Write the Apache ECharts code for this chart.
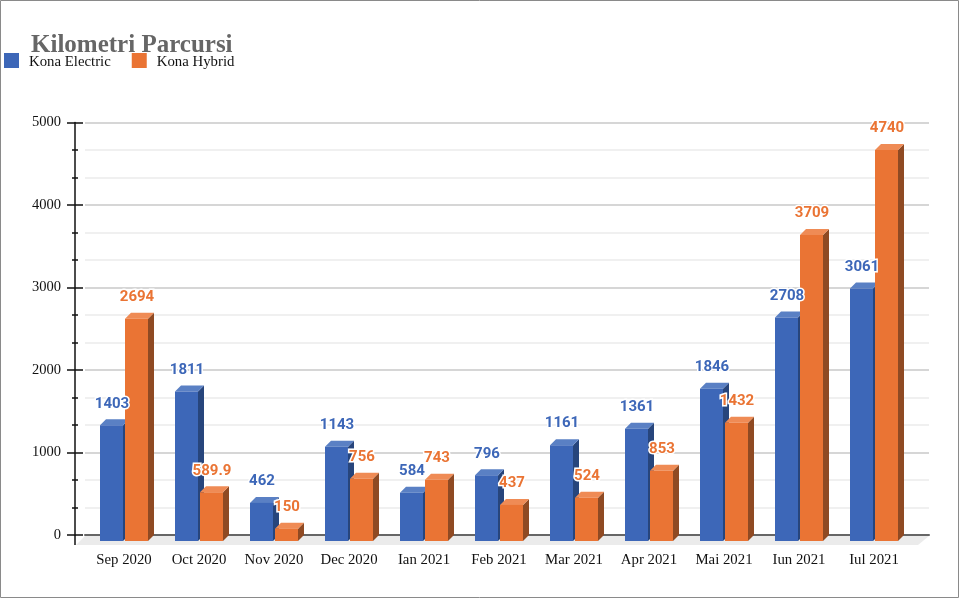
<!DOCTYPE html>
<html><head><meta charset="utf-8">
<style>html,body{margin:0;padding:0;background:#fff}#c{width:959px;height:598px}</style>
<script src="https://cdn.jsdelivr.net/npm/echarts@6/dist/echarts.min.js"></script></head>
<body><div id="c"></div>
<script>
const months = ['Sep 2020','Oct 2020','Nov 2020','Dec 2020','Ian 2021','Feb 2021','Mar 2021','Apr 2021','Mai 2021','Iun 2021','Iul 2021'];
const konaElectric = [1403,1811,462,1143,584,796,1161,1361,1846,2708,3061];
const konaHybrid = [2694,589.9,150,756,743,437,524,853,1432,3709,4740];
const serif = '"Liberation Serif"';
const DEPTH = 6, BAR = 23;
function bar3d(front, top, side, labelColor, leftOffset) {
  return function (params, api) {
    const i = api.value(0), v = api.value(1);
    const c = api.coord([i, v]), b = api.coord([i, 0]);
    const x0 = c[0] + leftOffset, x1 = x0 + BAR;
    const yT = c[1] + DEPTH, yB = b[1] + DEPTH;
    return { type: 'group', children: [
      { type: 'polygon', shape: { points: [[x1,yT],[x1+DEPTH,yT-DEPTH],[x1+DEPTH,yB-DEPTH],[x1,yB]] }, style: { fill: side } },
      { type: 'polygon', shape: { points: [[x0,yT],[x1,yT],[x1+DEPTH,yT-DEPTH],[x0+DEPTH,yT-DEPTH]] }, style: { fill: top } },
      { type: 'rect', shape: { x: x0, y: yT, width: BAR, height: yB - yT }, style: { fill: front } },
      { type: 'text', z2: 100, style: { text: String(v), x: (x0 + x1) / 2 + 0.5, y: c[1] - 15.5, align: 'center', verticalAlign: 'middle',
        fill: labelColor, font: '700 15px Roboto', stroke: '#fff', lineWidth: 3 } }
    ]};
  };
}
const chart = echarts.init(document.getElementById('c'), null, { renderer: 'canvas' });
const yBase = { type: 'value', min: 0, max: 5000, interval: 1000, gridIndex: 0 };
chart.setOption({
  animation: false,
  backgroundColor: '#fff',
  title: { text: 'Kilometri Parcursi', left: 31, top: 33, padding: 0,
    textStyle: { fontFamily: serif, fontSize: 25, fontWeight: 700, color: '#666' } },
  legend: { left: 4, top: 53, padding: 0, itemWidth: 15, itemHeight: 15, itemGap: 21, icon: 'rect',
    formatter: name => '{a|' + name + '}',
    textStyle: { rich: { a: { fontFamily: serif, fontSize: 14.8, color: '#111', padding: [4,0,0,5] } } },
    data: ['Kona Electric','Kona Hybrid'] },
  grid: [
    { left: 85, right: 30, top: 122.5, bottom: 63 },
    { left: 86.5, width: 825, top: 122.5, bottom: 63 }
  ],
  xAxis: [
    { type: 'category', gridIndex: 0, data: months, axisLabel: { show: false }, axisTick: { show: false },
      axisLine: { show: true, lineStyle: { color: '#666', width: 2 } } },
    { type: 'category', gridIndex: 1, data: months, axisLine: { show: false }, axisTick: { show: false },
      axisLabel: { interval: 0, margin: 18, fontFamily: serif, fontSize: 14.8, color: '#111' } }
  ],
  yAxis: [
    Object.assign({}, yBase, { offset: 10,
      axisLine: { show: true, lineStyle: { color: '#111', width: 1.5 } },
      axisTick: { show: true, length: 8, lineStyle: { color: '#111', width: 1.5 } },
      minorTick: { show: true, splitNumber: 3, length: 3, lineStyle: { color: '#111', width: 1.5 } },
      axisLabel: { margin: 14, fontFamily: serif, fontSize: 14.5, color: '#111', formatter: v => String(v) },
      splitLine: { show: true, lineStyle: { color: '#c9c9c9', width: 1.5 } },
      minorSplitLine: { show: true, lineStyle: { color: '#ebebeb', width: 1.5 } } }),
    Object.assign({}, yBase, { offset: 10, position: 'left',
      axisLine: { show: false }, axisLabel: { show: false }, splitLine: { show: false },
      axisTick: { show: true, inside: true, length: 8, lineStyle: { color: '#111', width: 1.5 } },
      minorTick: { show: true, splitNumber: 3, length: 3, lineStyle: { color: '#111', width: 1.5 } } }),
    { type: 'value', min: 0, max: 5000, interval: 1000, gridIndex: 1, show: false }
  ],
  graphic: [
    { type: 'polygon', z: 0, zlevel: 0, shape: { points: [[85,536],[929,536],[918,545],[76,545]] }, style: { fill: '#ebebeb' } },
    { type: 'line', z: 1, shape: { x1: 75, y1: 535, x2: 75, y2: 545 }, style: { stroke: '#111', lineWidth: 1.5 } },
    { type: 'rect', z: 1, shape: { x: 0.5, y: 0.5, width: 958, height: 597 }, style: { fill: 'none', stroke: '#8a8a8a', lineWidth: 1 } }
  ],
  series: [
    { name: 'Kona Electric', type: 'custom', xAxisIndex: 1, yAxisIndex: 2, itemStyle: { color: '#3d67b8' },
      data: konaElectric.map((v, i) => [i, v]), encode: { x: 0, y: 1 },
      renderItem: bar3d('#3d67b8', '#5a80c4', '#27457c', '#3d67b8', -24) },
    { name: 'Kona Hybrid', type: 'custom', xAxisIndex: 1, yAxisIndex: 2, itemStyle: { color: '#ea7434' },
      data: konaHybrid.map((v, i) => [i, v]), encode: { x: 0, y: 1 },
      renderItem: bar3d('#ea7434', '#ef8b55', '#8f4a23', '#ea7434', 1) }
  ]
});
</script></body></html>
